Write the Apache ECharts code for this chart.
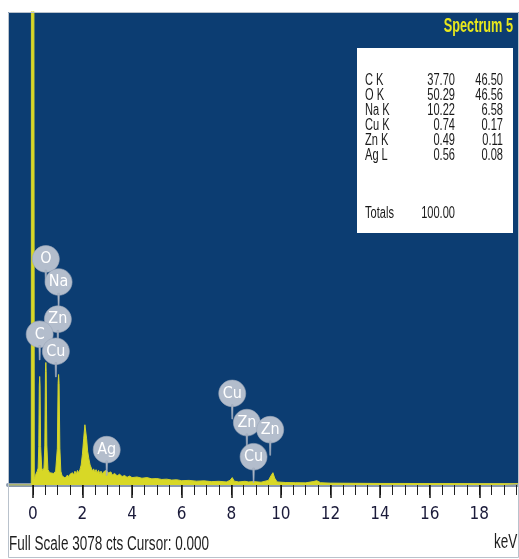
<!DOCTYPE html>
<html>
<head>
<meta charset="utf-8">
<script src="https://cdn.jsdelivr.net/npm/echarts@6/dist/echarts.min.js"></script>
<style>html,body{margin:0;padding:0;background:#fff;}#c{width:519px;height:559px;}</style>
</head>
<body>
<div id="c"></div>
<script>
// ---- data ----
const spectrumKeV = [-1,-0.06,-0.035,0.035,0.06,0.12,0.18,0.215,0.24,0.262,0.277,0.292,0.315,0.36,0.40,0.45,0.485,0.51,0.525,0.54,0.565,0.61,0.68,0.76,0.84,0.92,0.99,1.02,1.04,1.06,1.09,1.13,1.18,
 1.25,1.3,1.35,1.4,1.45,1.5,1.55,1.6,1.65,1.7,1.75,1.8,1.85,1.9,1.95,2.0,2.05,2.1,2.13,2.17,2.21,2.26,2.31,2.36,
 2.4,2.45,2.5,2.55,2.6,2.65,2.7,2.75,2.8,2.85,2.9,2.95,3.0,3.05,3.1,3.15,3.2,3.3,3.4,3.5,3.6,3.7,3.8,3.9,4.0,4.2,4.4,4.6,4.8,5.0,5.2,5.4,5.6,5.8,
 6.0,6.3,6.6,6.9,7.2,7.5,7.8,7.95,8.04,8.12,8.3,8.55,8.63,8.7,8.9,9.2,9.5,9.6,9.68,9.75,9.85,10.2,10.6,11.0,11.3,11.45,11.6,12,13,14,15,16,17,18,19,19.6];
const spectrumCounts = [0,0,20000,20000,40,70,90,110,250,650,706,650,250,110,95,110,260,740,797,740,260,100,80,70,75,90,240,660,719,660,240,90,60,
 60,45,55,65,50,70,60,80,65,90,70,95,80,100,130,200,300,392,380,300,220,170,130,110,
 90,105,85,100,80,95,75,90,70,85,75,95,100,80,70,85,65,75,60,70,55,62,50,58,48,52,44,48,40,42,36,38,32,34,
 28,30,25,27,22,24,20,30,48,25,20,24,34,20,22,18,30,60,80,45,20,16,15,14,22,28,15,12,11,10,10,9,9,8,8,8];

const pinLabels = ['O','Na','Zn','C','Cu','Ag','Cu','Zn','Zn','Cu'];
const pinKeV    = [0.525,1.04,1.01,0.277,0.93,2.98,8.04,8.63,9.57,8.90];
const pinCounts = [1470,1320,1078,980,869,229,595,405,359,183];

const majorTicks = [0,2,4,6,8,10,12,14,16,18];
const minorTicks = [0,0.5,1,1.5,2,2.5,3,3.5,4,4.5,5,5.5,6,6.5,7,7.5,8,8.5,9,9.5,10,10.5,11,11.5,12,12.5,13,13.5,14,14.5,15,15.5,16,16.5,17,17.5,18,18.5,19,19.5];

const elements = ['C K','O K','Na K','Cu K','Zn K','Ag L'];
const weightPct = ['37.70','50.29','10.22','0.74','0.49','0.56'];
const atomicPct = ['46.50','46.56','6.58','0.17','0.11','0.08'];
const totalWeight = '100.00';
const fullScale = 3078;
const titleText = 'Spectrum 5';
const footerText = 'Full Scale 3078 cts Cursor: 0.000';
const unitText = 'keV';

// ---- chart ----
const NARROW = "'DejaVu Sans Condensed','Liberation Sans Narrow',sans-serif";
const ARIAL = "'Liberation Sans',Arial,sans-serif";
const chart = echarts.init(document.getElementById('c'), null, {renderer: 'canvas'});

const lineData = spectrumKeV.map((k, i) => [k, spectrumCounts[i]]);
const pinData = pinLabels.map((n, i) => ({name: n, value: [pinKeV[i], pinCounts[i]]}));

const pinPath = 'path://M13,0 C20.18,0 26,5.82 26,13 C26,20.18 20.18,26 13,26 C5.82,26 0,20.18 0,13 C0,5.82 5.82,0 13,0 Z M12.2,24 L13.8,24 L13.4,38 L12.6,38 Z';

const graphics = [];
graphics.push({type: 'rect', z: 100, shape: {x: 357, y: 48, width: 156, height: 185}, style: {fill: '#ffffff'}});
const rowY0 = 80, rowStep = 15;
function txt(t, x, y, align, size, sx, sy, weight, fill) {
  return {
    type: 'text', z: 101, x: x, y: y, scaleX: sx, scaleY: sy,
    style: {text: t, x: 0, y: 0, align: align, verticalAlign: 'middle',
            font: (weight || 'normal') + ' ' + size + 'px ' + ARIAL, fill: fill || '#1a1a1a'}
  };
}
elements.forEach((e, i) => {
  const y = rowY0 + i * rowStep;
  graphics.push(txt(e, 365, y, 'left', 13.5, 0.82, 1.28));
  graphics.push(txt(weightPct[i], 455, y, 'right', 13.5, 0.82, 1.28));
  graphics.push(txt(atomicPct[i], 503, y, 'right', 13.5, 0.82, 1.28));
});
graphics.push(txt('Totals', 365, 213, 'left', 13.5, 0.82, 1.28));
graphics.push(txt(totalWeight, 455, 213, 'right', 13.5, 0.82, 1.28));
graphics.push(txt(titleText, 513, 26, 'right', 15.5, 0.82, 1.3, 'bold', '#e8e81c'));
graphics.push(txt(footerText, 9, 545, 'left', 16.5, 0.82, 1.2, 'normal', '#1e1e1e'));
graphics.push(txt(unitText, 494, 543, 'left', 16.5, 0.82, 1.2, 'normal', '#1e1e1e'));
graphics.push({type: 'rect', z: 99, shape: {x: 8.5, y: 12.5, width: 510, height: 545}, style: {fill: 'none', stroke: '#b9c2cc', lineWidth: 1}});

chart.setOption({
  animation: false,
  backgroundColor: '#ffffff',
  grid: {left: 8, right: 0, top: 12, bottom: 74, show: true, backgroundColor: '#0c3d72', borderWidth: 0, containLabel: false},
  xAxis: [
    {type: 'value', min: -1, max: 19.6, position: 'bottom',
     axisLine: {show: true, onZero: false, lineStyle: {color: '#8a9aae', width: 4}},
     axisTick: {show: true, customValues: minorTicks, length: 10, lineStyle: {color: '#222', width: 1}},
     axisLabel: {show: false}, splitLine: {show: false}},
    {type: 'value', min: -1, max: 19.6, position: 'bottom',
     axisLine: {show: false, onZero: false},
     axisTick: {show: true, customValues: majorTicks, length: 13, lineStyle: {color: '#111', width: 1.5}},
     axisLabel: {show: true, customValues: majorTicks, margin: 21, fontSize: 17, fontFamily: NARROW, color: '#1b1b3a'},
     splitLine: {show: false}}
  ],
  yAxis: {type: 'value', min: 0, max: fullScale, show: false, splitLine: {show: false}},
  series: [
    {type: 'line', data: lineData, xAxisIndex: 0, symbol: 'none', clip: true, z: 3,
     lineStyle: {color: '#d2d22c', width: 1}, areaStyle: {color: '#d8d826', opacity: 1}},
    {type: 'scatter', data: pinData, xAxisIndex: 0, symbol: pinPath, symbolSize: [27, 39], symbolOffset: [0, 6], z: 5,
     itemStyle: {color: '#b3bdcc', opacity: 1, borderColor: '#9aa6b8', borderWidth: 0.6},
     label: {show: true, position: 'inside', offset: [0, -6], formatter: '{b}', color: '#ffffff', fontSize: 16, fontFamily: NARROW}}
  ],
  graphic: graphics
});
</script>
</body>
</html>
